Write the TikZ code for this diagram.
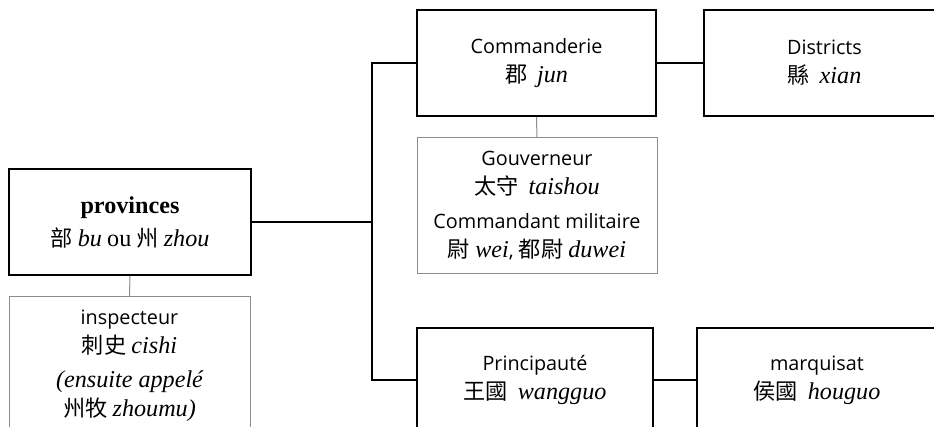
\documentclass[tikz,border=0pt]{standalone}
\usepackage{fontspec}
\setmainfont{Open Sans}
\newfontfamily\serif{Liberation Serif}[Scale=1.22]
\newfontfamily\cjk{Noto Sans CJK TC}[Scale=1.12]
\usepackage{tikz}
\usetikzlibrary{positioning}
\definecolor{subgray}{RGB}{140,140,140}
\newcommand{\hanzi}[1]{{\cjk #1}}
\newcommand{\pinyin}[1]{{\serif\itshape #1}}

\tikzset{
  unit/.style={draw=black, line width=1.2pt, rectangle, align=center, inner sep=0pt,
    font=\fontsize{9.9}{14.5}\selectfont},
  office/.style={draw=subgray, line width=0.5pt, rectangle, align=center, inner sep=0pt,
    font=\fontsize{9.9}{14.5}\selectfont},
  link/.style={line width=1pt, line join=miter},
  sublink/.style={draw=subgray, line width=0.5pt}
}

\begin{document}
\begin{tikzpicture}[x=0.5pt,y=-0.5pt]
\useasboundingbox (0,0) rectangle (934,427);
\clip (0,0) rectangle (934,427);

% left column
\node[unit, minimum width=121pt, minimum height=53pt] (prov) at (130,222)
  {{\serif\bfseries provinces}\\[2pt]\hanzi{部} \pinyin{bu} {\serif ou} \hanzi{州} \pinyin{zhou}};
\node[office, minimum width=120.5pt, minimum height=69pt] (insp) at (129.5,366)
  {inspecteur\\\hanzi{刺史} \pinyin{cishi}\\[2.5pt]\pinyin{(ensuite appelé}\\\hanzi{州牧} \pinyin{zhoumu)}};

% middle column
\node[unit, minimum width=119.5pt, minimum height=53pt] (comm) at (536.5,63)
  {Commanderie\\\hanzi{郡}\enspace\pinyin{jun}};
\node[office, minimum width=120pt, minimum height=68pt] (gouv) at (537,206)
  {Gouverneur\\\hanzi{太守}\enspace\pinyin{taishou}\\[2.5pt]Commandant militaire\\\hanzi{尉} \pinyin{wei}, \hanzi{都尉} \pinyin{duwei}};
\node[unit, minimum width=118pt, minimum height=52pt] (princ) at (535,380)
  {Principauté\\\hanzi{王國}\enspace\pinyin{wangguo}};

% right column
\node[unit, minimum width=120.5pt, minimum height=53pt] (dist) at (824.5,63)
  {Districts\\\hanzi{縣}\enspace\pinyin{xian}};
\node[unit, minimum width=120pt, minimum height=52pt] (marq) at (817,380)
  {marquisat\\\hanzi{侯國}\enspace\pinyin{houguo}};

% connectors
\coordinate (trunk) at (372,222);
\draw[link] (prov.east) -- (trunk);
\draw[link] (comm.west) -| (trunk) |- (princ.west);
\draw[link] (comm.east) -- (dist.west);
\draw[link] (princ.east) -- (marq.west);
\draw[sublink] (prov.south) -- (insp.north);
\draw[sublink] (comm.south) -- (gouv.north);
\end{tikzpicture}
\end{document}
